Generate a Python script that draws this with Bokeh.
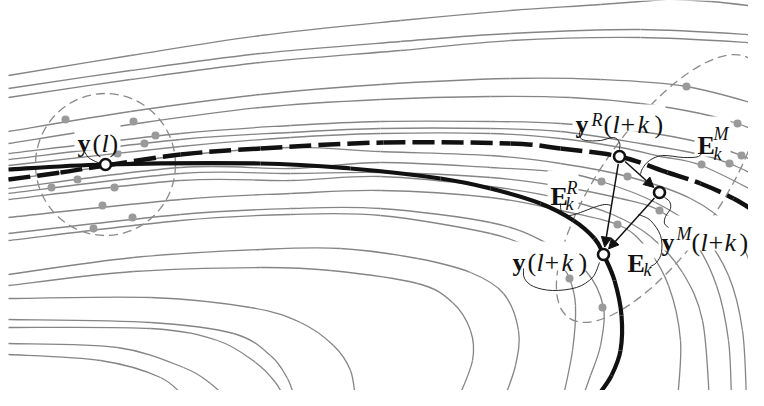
import math
from bokeh.plotting import figure
from bokeh.models import Range1d, Arrow, NormalHead, ColumnDataSource
from bokeh.core.properties import value
from bokeh.embed import file_html
from bokeh.resources import INLINE

# ---------------- data (screen pixel coordinates) -------------
u1 = [(8, 75), (130, 55), (260, 35), (400, 20), (510, 10), (600, 4), (690, -3)]
u1b = [(650, -2), (710, 1), (764, 7)]
u2 = [(8, 88), (130, 70), (260, 53), (400, 41), (510, 33), (640, 29), (764, 35)]
u3 = [(8, 97), (130, 79), (260, 62), (400, 50), (510, 40), (640, 37), (764, 43)]
u4 = [(8, 131), (130, 111), (260, 94), (380, 84), (510, 78), (600, 79), (686, 86), (764, 106)]
u5 = [(8, 143), (130, 124), (260, 107), (380, 99), (490, 96), (570, 97), (640, 103), (700, 113), (737, 123), (764, 134)]
u6 = [(8, 153), (180, 133), (290, 125), (380, 121), (490, 121), (560, 123), (640, 131), (700, 142), (741, 155), (764, 166)]
u7 = [(8, 159), (180, 139), (290, 132), (380, 128), (490, 128), (560, 131), (640, 143), (700, 154), (729, 163), (764, 179)]
u8 = [(8, 165), (180, 146), (290, 137), (380, 133), (490, 133), (560, 138), (620, 147), (660, 156), (701, 165), (764, 196)]
b0 = [(8, 179), (105, 166), (180, 155), (290, 147), (380, 151), (490, 155), (560, 163), (627, 176), (690, 198), (730, 228), (752, 270), (760, 330), (761, 400)]
b1 = [(8, 188), (180, 167), (290, 168), (380, 162), (490, 167), (560, 172), (601, 181), (655, 202), (700, 232), (728, 275), (742, 330), (746, 400)]
b2 = [(8, 193), (180, 173), (290, 173), (380, 172), (490, 177), (560, 186), (620, 198), (659, 210), (693, 240), (716, 285), (728, 340), (731, 400)]
b3 = [(8, 199), (180, 180), (290, 180), (380, 176), (490, 186), (560, 198), (612, 214), (650, 236), (682, 272), (702, 320), (709, 400)]
b4 = [(8, 217), (180, 199), (290, 193), (380, 190), (490, 197), (560, 210), (617, 224), (645, 246), (668, 285), (680, 340), (677, 400)]
l233 = [(8, 233), (180, 214), (290, 208), (380, 208), (490, 222), (545, 242), (585, 270), (603, 307), (600, 345), (590, 375), (581, 400)]
l240 = [(8, 240), (180, 220), (290, 214), (380, 215), (490, 233), (535, 250), (560, 266), (569, 278), (575, 305), (572, 350), (562, 400)]
l274 = [(8, 274), (133, 257), (260, 249), (340, 248), (417, 258), (470, 272), (503, 293), (518, 330), (515, 365), (503, 400)]
l285 = [(8, 285), (133, 271), (260, 267), (330, 270), (417, 283), (452, 302), (470, 330), (472, 360), (457, 400)]
l298 = [(8, 298), (150, 297), (250, 307), (300, 322), (333, 345), (350, 370), (355, 400)]
l319 = [(8, 319), (150, 322), (233, 333), (270, 355), (287, 378), (295, 400)]
l327 = [(8, 327), (150, 328), (217, 340), (255, 362), (275, 382), (285, 400)]
l343 = [(8, 343), (117, 347), (183, 367), (210, 383), (228, 400)]
l354 = [(8, 354), (100, 360), (160, 377), (187, 400)]
gray_curves = [u1, u1b, u2, u3, u4, u5, u6, u7, u8, b0, b1, b2, b3, b4,
               l233, l240, l274, l285, l298, l319, l327, l343, l354]

solid_path = [(8, 169), (105, 164), (260, 163), (350, 168), (440, 178), (490, 188), (540, 203),
              (573, 220), (594, 238), (603, 254), (614, 280), (621, 315), (620, 350), (611, 375), (599, 393)]
dashed_path = [(8, 179), (60, 172), (105, 165), (180, 154), (260, 148), (383, 142), (510, 143),
               (560, 148), (619, 156), (667, 172), (700, 183), (733, 198), (764, 217)]

dots_left_x = [65, 133, 155, 144, 117, 77, 51, 114, 102, 132, 93]
dots_left_y = [119, 121, 135, 143, 153, 179, 187, 187, 205, 217, 228]
dots_right_x = [686, 737, 741, 729, 701, 627, 601, 659, 617, 569, 602]
dots_right_y = [86, 123, 155, 163, 164, 176, 181, 210, 224, 278, 307]

# states: y(l), y^R(l+k), y^M(l+k), y(l+k)
state_x = [105, 619, 659, 603]
state_y = [164, 156, 192, 254]

# neighbourhoods (center x, center y, width, height, angle deg)
hood_x = [105, 659]
hood_y = [164, 188]
hood_w = [140, 316]
hood_h = [142, 120]
hood_angle = [0, 55]

# leader (squiggle) curves
lead_yl = [(84, 151), (88, 157), (95, 161), (100, 163)]
lead_yR = [(580, 129), (579, 136), (585, 140), (600, 140), (613, 137), (619, 142), (619, 149)]
lead_EM = [(702, 150), (698, 156), (683, 157), (662, 155), (649, 160), (642, 168), (640, 174)]
lead_ER = [(560, 203), (561, 211), (568, 215), (580, 212), (593, 207), (604, 204), (611, 205)]
lead_yM = [(664, 197), (669, 201), (670, 208), (665, 216), (664, 223), (668, 227)]
lead_Ek = [(638, 214), (650, 220), (660, 235), (661, 252), (656, 262), (650, 266)]
lead_ylk = [(523, 268), (524, 278), (533, 286), (552, 290), (576, 287), (592, 277), (599, 262)]
leaders = [lead_yl, lead_yR, lead_EM, lead_ER, lead_yM, lead_Ek, lead_ylk]

# ---------------- helpers -------------
def bez_source(paths):
    d = dict(x0=[], y0=[], x1=[], y1=[], cx0=[], cy0=[], cx1=[], cy1=[])
    for pts in paths:
        n = len(pts)
        for i in range(n - 1):
            p0 = pts[max(i - 1, 0)]
            p1 = pts[i]
            p2 = pts[i + 1]
            p3 = pts[min(i + 2, n - 1)]
            d["x0"].append(p1[0]); d["y0"].append(p1[1])
            d["x1"].append(p2[0]); d["y1"].append(p2[1])
            d["cx0"].append(p1[0] + (p2[0] - p0[0]) / 6.0)
            d["cy0"].append(p1[1] + (p2[1] - p0[1]) / 6.0)
            d["cx1"].append(p2[0] - (p3[0] - p1[0]) / 6.0)
            d["cy1"].append(p2[1] - (p3[1] - p1[1]) / 6.0)
    return ColumnDataSource(d)


def bez(p, paths, **kw):
    p.bezier(x0="x0", y0="y0", x1="x1", y1="y1", cx0="cx0", cy0="cy0",
             cx1="cx1", cy1="cy1", source=bez_source(paths), **kw)


p = figure(width=748, height=390, x_range=Range1d(0, 748), y_range=Range1d(390, 0),
           output_backend="svg", toolbar_location=None, min_border=0,
           x_axis_location=None, y_axis_location=None, outline_line_color=None,
           background_fill_color="white", border_fill_color="white")
p.grid.visible = False

GRAY = "#858585"
bez(p, gray_curves, line_color=GRAY, line_width=1.3)

p.ellipse(x=hood_x, y=hood_y, width=hood_w, height=hood_h,
          angle=[math.radians(a) for a in hood_angle],
          fill_color=None, line_color="#8a8a8a", line_width=1.3, line_dash="9 5")

p.scatter(dots_left_x + dots_right_x, dots_left_y + dots_right_y, size=8,
          fill_color="#9a9a9a", line_color=None)

# white knock-outs behind labels
ko_left = [74, 572, 694, 547, 658, 509, 624]
ko_right = [120, 665, 730, 578, 748, 590, 654]
ko_top = [124, 104, 116, 170, 215, 241, 243]
ko_bottom = [150, 131, 156, 204, 250, 270, 271]
p.quad(left=ko_left, right=ko_right, top=ko_top, bottom=ko_bottom,
       fill_color="white", line_color=None)

bez(p, [solid_path], line_color="#111111", line_width=4.2, line_cap="butt")
bez(p, [dashed_path], line_color="#111111", line_width=4.5, line_dash="22 7", line_cap="butt")
bez(p, leaders, line_color="#111111", line_width=0.9)

# arrows between states
R = 7.5
def edge(a, b, r):
    dx, dy = b[0] - a[0], b[1] - a[1]
    L = math.hypot(dx, dy)
    return a[0] + dx * r / L, a[1] + dy * r / L

S = list(zip(state_x, state_y))
for i, j in [(1, 2), (1, 3), (2, 3)]:
    xs, ys = edge(S[i], S[j], R)
    xe, ye = edge(S[j], S[i], R)
    p.add_layout(Arrow(end=NormalHead(size=10, fill_color="#111111", line_color="#111111", line_width=1),
                       x_start=xs, y_start=ys, x_end=xe, y_end=ye,
                       line_color="#111111", line_width=1.5))

p.scatter(state_x, state_y, size=11, fill_color="white", line_color="#111111", line_width=2.6)

# labels: pieces (text, x, baseline y, style, size)
pieces = [
    ("y", 77, 143, "bold", 26), ("(", 92, 143, "normal", 26), ("l", 101, 143, "italic", 26), (")", 109, 143, "normal", 26),
    ("y", 575, 124, "bold", 26), ("R", 591, 119, "italic", 18), ("(", 603, 124, "normal", 26), ("l", 612, 124, "italic", 26),
    ("+", 620, 124, "normal", 26), ("k", 637, 124, "italic", 26), (")", 654, 124, "normal", 26),
    ("E", 697, 145, "bold", 26), ("M", 713, 133, "italic", 18), ("k", 713, 153, "italic", 18),
    ("E", 550, 196, "bold", 26), ("R", 566, 187, "italic", 18), ("k", 565, 203, "italic", 18),
    ("y", 661, 242, "bold", 26), ("M", 676, 233, "italic", 18), ("(", 691, 242, "normal", 26), ("l", 700, 242, "italic", 26),
    ("+", 708, 242, "normal", 26), ("k", 724, 242, "italic", 26), (")", 739, 242, "normal", 26),
    ("y", 512, 262, "bold", 26), ("(", 527, 262, "normal", 26), ("l", 536, 262, "italic", 26),
    ("+", 544, 262, "normal", 26), ("k", 561, 262, "italic", 26), (")", 578, 262, "normal", 26),
    ("E", 627, 263, "bold", 26), ("k", 643, 269, "italic", 18),
]
groups = {}
for t, x, y, st, sz in pieces:
    g = groups.setdefault((st, sz), dict(x=[], y=[], text=[]))
    g["x"].append(x); g["y"].append(y); g["text"].append(t)
for (st, sz), g in groups.items():
    p.text(x="x", y="y", text="text", source=ColumnDataSource(g),
           text_font=value("Liberation Serif"), text_font_size=f"{sz}px",
           text_font_style=st, text_color="#111111",
           text_align="left", text_baseline="alphabetic")

open("out.html", "w").write(file_html(p, INLINE))
